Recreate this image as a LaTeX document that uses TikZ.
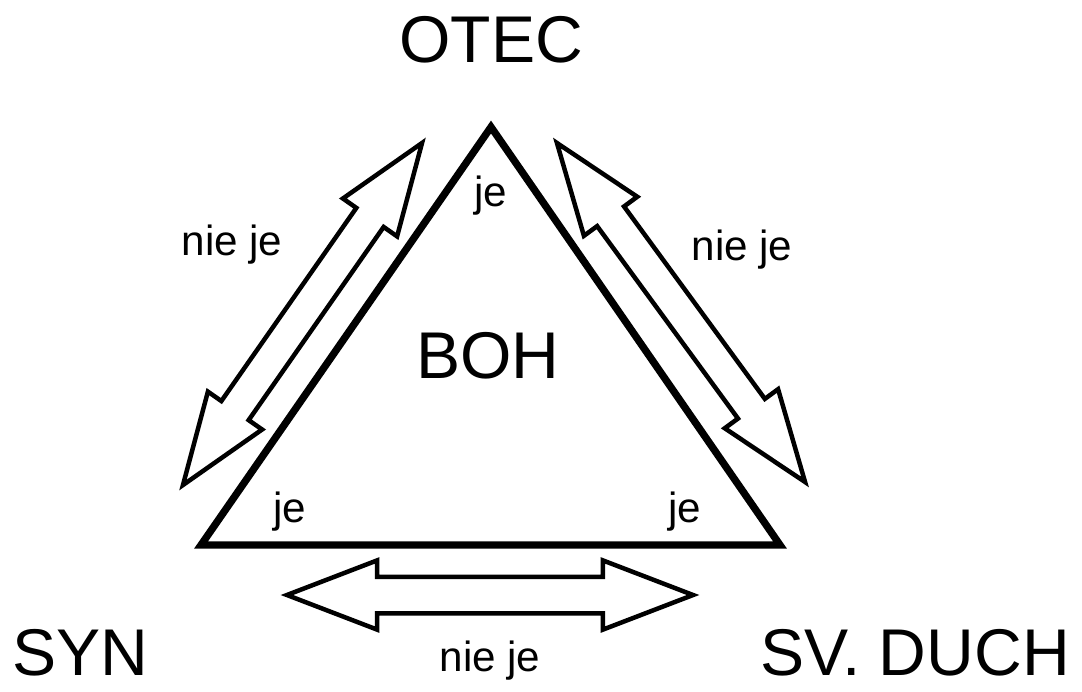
\documentclass[tikz,border=0pt]{standalone}
\usepackage{fontspec}
\setmainfont{Liberation Sans}
\usepackage{tikz}
\usetikzlibrary{positioning,shapes.arrows}

\begin{document}
\begin{tikzpicture}[x=0.025cm, y=-0.025cm, node distance=2cm,
		persona/.style={font=\fontsize{47}{50}\selectfont, inner sep=0pt},
		remark/.style={font=\fontsize{30}{32}\selectfont, inner sep=0pt},
		hollow/.style={draw, line width=3.2pt, shape=double arrow, double arrow tip angle=40,
			double arrow head extend=0.41cm, inner xsep=0pt, inner ysep=0.36cm, minimum width=0pt}]
		
		\useasboundingbox (0,0) rectangle (1082,691);
		
		% Corners of the triangle
		\coordinate (top) at (491,127);
		\coordinate (left) at (201,545);
		\coordinate (right) at (780,545);
		
		% Draw the triangle
		\draw[line width=5.2pt, line join=miter] (top) -- (left) -- (right) -- cycle;
		
		% Draw the three persons
		\node (otec) [persona, above of=top, yshift=0.175cm] {OTEC};
		\node (syn) [persona] at (80,653) {SYN};
		\node (duch) [persona] at (915,653) {SV. DUCH};
		\node (boh) [persona] at (488,356) {BOH};
		
		% Draw the corner labels
		\node (je1) [remark, below of=top, yshift=0.275cm] {je};
		\node (je2) [remark] at (290,512) {je};
		\node (je3) [remark] at (685,512) {je};
		
		% Draw the double arrows
		\node (arrowl) [hollow, minimum height=10.43cm, rotate=55.05] at (302.5,314) {};
		\node (arrowr) [hollow, minimum height=10.5cm, rotate=-53.8] at (681,312.5) {};
		\node (arrowb) [hollow, minimum height=10.15cm, double arrow tip angle=42, inner ysep=0.4cm] at (490,595) {};
		
		% Add the arrow labels
		\node (niel) [remark] at (232,245) {nie je};
		\node (nier) [remark] at (742,250) {nie je};
		\node (nieb) [remark, below of=arrowb, yshift=0.35cm] {nie je};
		
\end{tikzpicture}
\end{document}
